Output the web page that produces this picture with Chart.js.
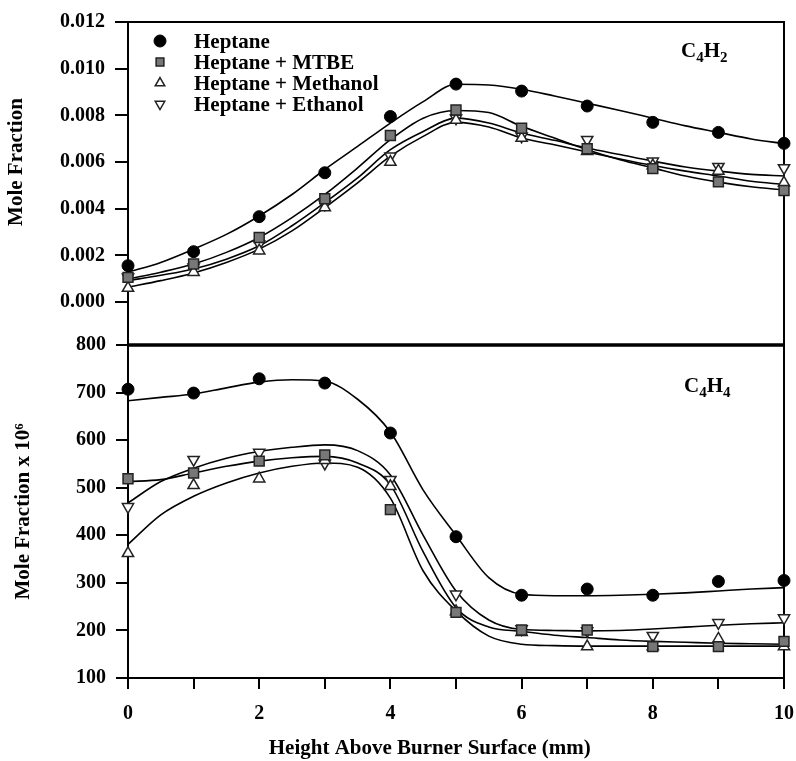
<!DOCTYPE html>
<html>
<head>
<meta charset="utf-8">
<script src="https://cdn.jsdelivr.net/npm/chart.js@4.4.1/dist/chart.umd.min.js"></script>
<style>
  html, body { margin: 0; padding: 0; background: #fff; }
</style>
</head>
<body>
<canvas id="myChart" width="796" height="761"></canvas>
<script>
// alturas medidas (mm) y alturas de las curvas ajustadas
const alturas = [0, 1, 2, 3, 4, 5, 6, 7, 8, 9, 10];
const alturasAjuste = [0, 0.5, 1, 1.5, 2, 2.5, 3, 3.5, 4, 4.5, 5, 5.5, 6, 6.5, 7, 7.5, 8, 8.5, 9, 9.5, 10];

const nombres = ["Heptane", "Heptane + MTBE", "Heptane + Methanol", "Heptane + Ethanol"];

// C4H2 (fraccion molar)
const heptanoC4H2 = [0.00156, 0.00216, 0.00366, 0.00554, 0.00795, 0.00934, 0.00904, 0.00840, 0.00770, 0.00727, 0.00680];
const mtbeC4H2 = [0.00106, 0.00163, 0.00277, 0.00443, 0.00714, 0.00823, 0.00745, 0.00657, 0.00572, 0.00515, 0.00478];
const metanolC4H2 = [0.00060, 0.00128, 0.00220, 0.00405, 0.00600, 0.00780, 0.00703, 0.00646, 0.00585, 0.00562, 0.00511];
const etanolC4H2 = [0.00106, 0.00149, 0.00248, 0.00419, 0.00625, 0.00788, 0.00710, 0.00696, 0.00603, 0.00580, 0.00575];

const heptanoC4H2Ajuste = [0.00128, 0.00170, 0.00227, 0.00290, 0.00369, 0.00461, 0.00568, 0.00667, 0.00767, 0.00859, 0.00933, 0.00930, 0.00912, 0.00883, 0.00852, 0.00821, 0.00788, 0.00755, 0.00727, 0.00699, 0.00679];
const mtbeC4H2Ajuste = [0.00099, 0.00128, 0.00163, 0.00213, 0.00277, 0.00362, 0.00461, 0.00575, 0.00696, 0.00788, 0.00821, 0.00812, 0.00753, 0.00703, 0.00653, 0.00610, 0.00575, 0.00540, 0.00514, 0.00494, 0.00480];
const metanolC4H2Ajuste = [0.00064, 0.00092, 0.00125, 0.00170, 0.00227, 0.00305, 0.00405, 0.00511, 0.00625, 0.00710, 0.00770, 0.00750, 0.00703, 0.00674, 0.00643, 0.00613, 0.00585, 0.00561, 0.00540, 0.00518, 0.00504];
const etanolC4H2Ajuste = [0.00092, 0.00115, 0.00142, 0.00184, 0.00241, 0.00327, 0.00426, 0.00532, 0.00653, 0.00731, 0.00788, 0.00767, 0.00724, 0.00693, 0.00660, 0.00632, 0.00604, 0.00579, 0.00561, 0.00547, 0.00540];

// C4H4 (fraccion molar x 10^6)
const heptanoC4H4 = [707, 699, 729, 720, 615, 397, 274, 287, 274, 303, 305];
const mtbeC4H4 = [519, 531, 556, 569, 454, 238, 201, 201, 166, 166, 177];
const metanolC4H4 = [362, 505, 519, 558, 503, 240, 196, 166, 166, 182, 166];
const etanolC4H4 = [460, 559, 574, 551, 517, 276, 203, 199, 189, 216, 226];

const heptanoC4H4Ajuste = [683, 690, 697, 710, 722, 727, 724, 686, 617, 495, 400, 311, 276, 273, 273, 274, 276, 279, 283, 287, 290];
const mtbeC4H4Ajuste = [513, 517, 531, 545, 556, 563, 566, 552, 506, 365, 248, 207, 198, 190, 185, 180, 177, 175, 173, 172, 171];
const metanolC4H4Ajuste = [381, 443, 482, 510, 531, 545, 552, 543, 478, 325, 241, 188, 171, 168, 167, 167, 167, 167, 167, 167, 167];
const etanolC4H4Ajuste = [468, 513, 541, 562, 576, 585, 590, 578, 527, 400, 283, 222, 202, 200, 199, 200, 203, 207, 211, 214, 216];

const marcasC4H2 = [0, 0.002, 0.004, 0.006, 0.008, 0.010, 0.012];

const serif = "'Liberation Serif', 'Times New Roman', serif";
const negro = "#000";

const estilos = [
  { pointStyle: "circle", pointRadius: 6, pointRotation: 0, pointBackgroundColor: "#000", pointBorderColor: "#000", pointBorderWidth: 1 },
  { pointStyle: "rect", pointRadius: 7, pointRotation: 0, pointBackgroundColor: "#777", pointBorderColor: "#222", pointBorderWidth: 1.5 },
  { pointStyle: "triangle", pointRadius: 6.5, pointRotation: 0, pointBackgroundColor: "#fff", pointBorderColor: "#222", pointBorderWidth: 1.5 },
  { pointStyle: "triangle", pointRadius: 6.5, pointRotation: 180, pointBackgroundColor: "#fff", pointBorderColor: "#222", pointBorderWidth: 1.5 }
];

const aPuntos = (xs, ys) => xs.map((x, i) => ({ x: x, y: ys[i] }));

const medidos = (ys, i, eje) => ({
  label: nombres[i],
  data: aPuntos(alturas, ys),
  yAxisID: eje,
  showLine: false,
  clip: false,
  order: 0,
  ...estilos[i]
});

const ajuste = (ys, eje) => ({
  label: "",
  data: aPuntos(alturasAjuste, ys),
  yAxisID: eje,
  showLine: true,
  pointRadius: 0,
  borderColor: negro,
  borderWidth: 1.6,
  cubicInterpolationMode: "monotone",
  order: 1
});

const datasets = [
  medidos(heptanoC4H2, 0, "yTop"),
  medidos(mtbeC4H2, 1, "yTop"),
  medidos(metanolC4H2, 2, "yTop"),
  medidos(etanolC4H2, 3, "yTop"),
  medidos(heptanoC4H4, 0, "yBot"),
  medidos(mtbeC4H4, 1, "yBot"),
  medidos(metanolC4H4, 2, "yBot"),
  medidos(etanolC4H4, 3, "yBot"),
  ajuste(heptanoC4H2Ajuste, "yTop"),
  ajuste(mtbeC4H2Ajuste, "yTop"),
  ajuste(metanolC4H2Ajuste, "yTop"),
  ajuste(etanolC4H2Ajuste, "yTop"),
  ajuste(heptanoC4H4Ajuste, "yBot"),
  ajuste(mtbeC4H4Ajuste, "yBot"),
  ajuste(metanolC4H4Ajuste, "yBot"),
  ajuste(etanolC4H4Ajuste, "yBot")
];

const fuenteTicks = { family: serif, size: 20, weight: "bold" };
const fuenteTitulo = { family: serif, size: 21, weight: "bold" };

// formula con subindices
const dibujaFormula = (ctx, partes, x, y) => {
  partes.forEach(([txt, sub]) => {
    ctx.font = sub ? "bold 15px " + serif : "bold 21px " + serif;
    ctx.fillText(txt, x, sub ? y + 5 : y);
    x += ctx.measureText(txt).width;
  });
};

const decoracion = {
  id: "decoracion",
  beforeDatasetsDraw(chart) {
    const { ctx, chartArea: a, scales } = chart;
    const yT = scales.yTop, yB = scales.yBot;
    ctx.save();
    ctx.strokeStyle = negro;
    ctx.lineWidth = 2;
    ctx.strokeRect(a.left, yT.top, a.right - a.left, yT.bottom - yT.top);
    ctx.strokeRect(a.left, yB.top, a.right - a.left, yB.bottom - yB.top);
    ctx.lineWidth = 3.5;
    ctx.beginPath();
    ctx.moveTo(a.left, yB.top);
    ctx.lineTo(a.right, yB.top);
    ctx.stroke();
    ctx.restore();
  },
  afterDraw(chart) {
    const { ctx, chartArea: a, scales } = chart;
    const yT = scales.yTop;
    ctx.save();
    ctx.fillStyle = negro;

    // titulo del panel superior
    ctx.save();
    ctx.translate(17, yT.getPixelForValue(0.006));
    ctx.rotate(-Math.PI / 2);
    ctx.font = "bold 21px " + serif;
    ctx.textAlign = "center";
    ctx.textBaseline = "middle";
    ctx.fillText("Mole Fraction", 0, 0);
    ctx.restore();

    // titulo del eje x (algo corrido a la izquierda, como en la figura)
    ctx.font = "bold 21px " + serif;
    ctx.textAlign = "center";
    ctx.textBaseline = "middle";
    ctx.fillText("Height Above Burner Surface (mm)", scales.x.getPixelForValue(4.6), 749);

    // leyenda
    const filas = [43, 64, 85, 106];
    chart.data.datasets.slice(0, 4).forEach((ds, i) => {
      ctx.fillStyle = ds.pointBackgroundColor;
      ctx.strokeStyle = ds.pointBorderColor;
      ctx.lineWidth = ds.pointBorderWidth;
      Chart.helpers.drawPoint(ctx, {
        pointStyle: ds.pointStyle,
        radius: ds.pointStyle === "circle" ? 6 : 5.5,
        rotation: ds.pointRotation,
        borderWidth: ds.pointBorderWidth
      }, a.left + 32, filas[i] - 2);
      ctx.fillStyle = negro;
      ctx.font = "bold 21px " + serif;
      ctx.textAlign = "left";
      ctx.textBaseline = "middle";
      ctx.fillText(ds.label, a.left + 66, filas[i]);
    });

    // nombres de especies
    ctx.textAlign = "left";
    ctx.textBaseline = "alphabetic";
    dibujaFormula(ctx, [["C", false], ["4", true], ["H", false], ["2", true]], a.right - 103, 57);
    dibujaFormula(ctx, [["C", false], ["4", true], ["H", false], ["4", true]], a.right - 100, 392);
    ctx.restore();
  }
};

const chart = document.getElementById("myChart");

const config = {
  type: "scatter",
  data: { datasets },
  options: {
    responsive: false,
    animation: false,
    devicePixelRatio: 1,
    layout: { padding: { top: 18, right: 12, left: 0, bottom: 0 } },
    plugins: { legend: { display: false }, tooltip: { enabled: false } },
    scales: {
      x: {
        type: "linear",
        position: "bottom",
        min: 0,
        max: 10,
        afterFit: (s) => { s.height = 83; s.paddingLeft = 0; s.paddingRight = 0; },
        border: { display: false },
        grid: { drawOnChartArea: false, drawTicks: true, tickLength: 11, color: negro, lineWidth: 2 },
        ticks: {
          stepSize: 1, autoSkip: false, maxRotation: 0, padding: 13, color: negro, font: fuenteTicks,
          callback: (v) => (v % 2 === 0 ? v : "")
        },
        title: { display: false }
      },
      // el ultimo eje del grupo queda arriba
      yBot: {
        type: "linear",
        position: "left",
        stack: "paneles",
        stackWeight: 335,
        min: 100,
        max: 800,
        afterFit: (s) => { s.width = 128; },
        border: { display: false },
        grid: { drawOnChartArea: false, drawTicks: true, tickLength: 12, color: negro, lineWidth: 2 },
        ticks: { stepSize: 100, autoSkip: false, padding: 10, color: negro, font: fuenteTicks },
        title: { display: true, text: "Mole Fraction x 10\u2076", color: negro, font: fuenteTitulo, padding: { top: 11, bottom: 0 } }
      },
      yTop: {
        type: "linear",
        position: "left",
        stack: "paneles",
        stackWeight: 325,
        min: -0.00184,
        max: 0.012,
        afterBuildTicks: (s) => { s.ticks = marcasC4H2.map((v) => ({ value: v })); },
        afterFit: (s) => { s.width = 128; },
        border: { display: false },
        grid: { drawOnChartArea: false, drawTicks: true, tickLength: 13, color: negro, lineWidth: 2 },
        ticks: { autoSkip: false, padding: 10, color: negro, font: fuenteTicks, callback: (v) => v.toFixed(3) },
        title: { display: false }
      }
    }
  },
  plugins: [decoracion]
};

const myChart = new Chart(chart, config);
</script>
</body>
</html>
